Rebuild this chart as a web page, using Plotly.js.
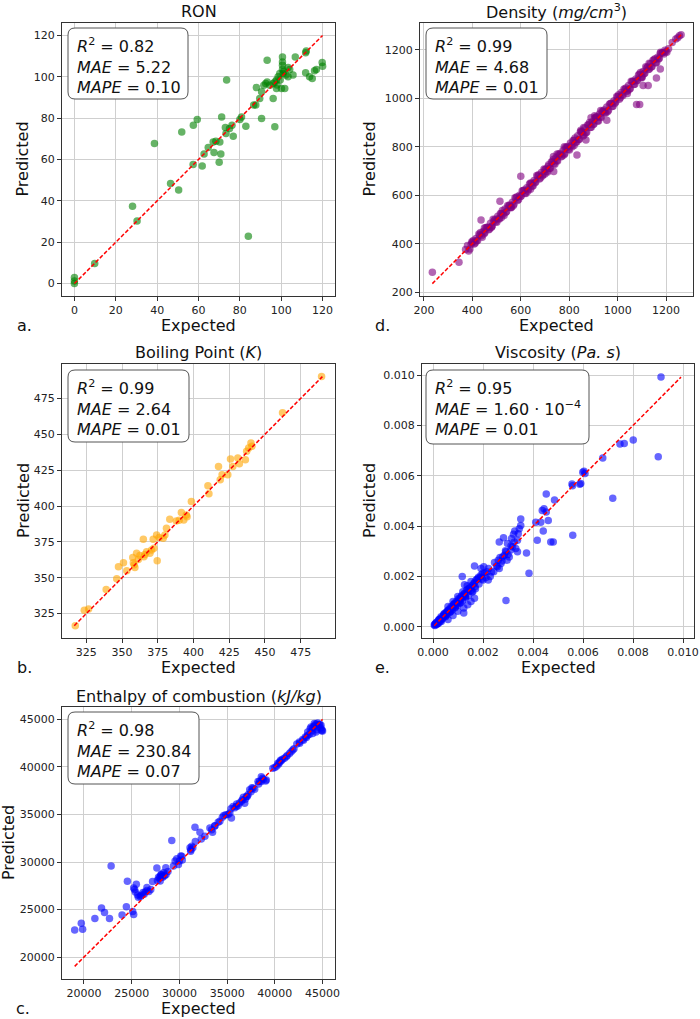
<!DOCTYPE html>
<html>
<head>
<meta charset="utf-8">
<script src="https://cdn.plot.ly/plotly-3.0.1.min.js"></script>
<style>
  html, body { margin: 0; padding: 0; background: #ffffff; }
  #chart { width: 700px; height: 1019px; }
</style>
</head>
<body>
<div id="chart"></div>
<script>
// ---- RON ----
const ronExpected = [
  0, 0, 0, 9.8, 28.1, 30.3, 38.7, 46.5, 50.4, 51.9,
  57.5, 59.4, 57.4, 61.8, 62.7, 64.7, 67.1, 67.5, 68.4, 70.0,
  70.3, 70.8, 71.2, 73.0, 73.6, 73.3, 75.0, 76.2, 76.8, 80.0,
  80.8, 82.9, 84.1, 86.7, 87.7, 88.0, 89.6, 90.5, 90.5, 91.6,
  92.5, 93.2, 93.2, 94.5, 96.1, 96.1, 96.9, 96.9, 97.7, 97.7,
  98.5, 99.3, 100.1, 100.6, 100.6, 100.6, 100.6, 100.9, 101.7, 102.2,
  103.3, 103.3, 104.1, 105.7, 106.8, 111.8, 111.8, 112.1, 113.7, 115.0,
  116.1, 117.0, 119.8, 120.0, 98.0, 99.5, 101.2
];
const ronPredicted = [
  0, 2.9, 1.2, 9.7, 37.4, 30.3, 67.7, 48.4, 45.2, 73.3,
  76.6, 79.3, 57.6, 56.8, 62.6, 65.8, 68.5, 63.4, 68.8, 58.7,
  68.5, 62.6, 80.6, 75.5, 98.4, 72.6, 75.0, 76.6, 71.3, 79.3,
  80.6, 76.1, 22.9, 86.3, 86.3, 94.8, 89.5, 79.8, 92.7, 95.9,
  96.8, 108.0, 97.5, 95.9, 96.8, 89.5, 97.5, 75.8, 98.4, 94.3,
  100.0, 101.6, 94.3, 109.6, 107.2, 105.6, 103.5, 101.6, 94.3, 100.8,
  100.0, 104.5, 103.5, 100.8, 109.6, 101.9, 111.6, 112.5, 100.0, 99.2,
  102.9, 103.5, 106.9, 105.1, 96.0, 98.5, 102.5
];

// ---- Density (mg/cm3) ----
const densityExpected = [
  235, 345, 372, 380, 385, 395, 436, 514, 600, 713,
  736, 832, 869, 955, 910, 1078, 1091, 1105, 1126, 1160,
  1176, 1203, 1177, 1248, 1255, 1262, 1240,
  400, 408, 415, 422, 430, 438, 445, 452, 460, 468,
  475, 482, 490, 497, 505, 512, 520, 527, 535, 542,
  550, 557, 565, 572, 580, 587, 595, 602, 610, 617,
  625, 632, 640, 647, 655, 662, 670, 677, 685, 692,
  700, 707, 715, 722, 730, 737, 745, 752, 760, 767,
  775, 782, 790, 797, 805, 812, 820, 827, 835, 842,
  850, 857, 865, 872, 880, 887, 895, 902, 910, 917,
  925, 932, 940, 947, 955, 962, 970, 977, 985, 992,
  1000, 1007, 1015, 1022, 1030, 1037, 1045, 1052, 1060, 1067,
  1075, 1082, 1090, 1097, 1105, 1112, 1120, 1127, 1135, 1142,
  1150, 1157, 1165, 1172, 1185, 1195, 1210,
  890, 905, 860, 848, 930, 750, 735, 640, 700, 780,
  820, 1040, 1100, 1130, 560, 480, 450, 520,
  390, 398, 412, 427, 441, 456, 471, 486, 501, 516,
  531, 546, 561, 576, 591, 606, 621, 636, 651, 666,
  681, 696, 711, 726, 741, 756, 771, 786, 801, 816,
  831, 846, 861, 876, 891, 906, 921, 936, 951, 966,
  981, 996, 1011, 1026, 1041, 1056, 1071, 1086, 1101, 1116,
  1131, 1146, 1161, 1176, 1191, 1225,
  404, 418, 434, 449, 464, 479, 494, 509, 524, 539,
  554, 569, 584, 599, 614, 629, 644, 659, 674, 689,
  704, 719, 734, 749, 764, 779, 794, 809, 824, 839,
  854, 869, 884, 899, 914, 929, 944, 959, 974, 989,
  1004, 1019, 1034, 1049, 1064, 1079, 1094, 1109, 1124, 1139,
  1154, 1169, 1184, 1199
];
const densityPredicted = [
  282, 323, 376, 392, 370, 398, 498, 575, 678, 719,
  698, 766, 828, 910, 923, 975, 975, 1053, 1053, 1084,
  1121, 1190, 1190, 1250, 1258, 1262, 1245,
  405, 399, 421, 413, 436, 433, 450, 446, 467, 457,
  484, 474, 495, 491, 513, 502, 525, 521, 543, 533,
  556, 550, 571, 563, 589, 578, 600, 597, 619, 608,
  631, 626, 650, 637, 661, 656, 679, 667, 694, 685,
  706, 699, 726, 711, 737, 730, 755, 741, 766, 759,
  786, 772, 797, 790, 816, 800, 827, 819, 846, 831,
  862, 845, 878, 860, 891, 880, 903, 894, 919, 906,
  935, 921, 946, 940, 964, 951, 979, 966, 990, 985,
  1007, 996, 1024, 1012, 1036, 1030, 1053, 1041, 1069, 1057,
  1080, 1075, 1099, 1086, 1111, 1104, 1126, 1119, 1143, 1131,
  1158, 1146, 1170, 1165, 1188, 1198, 1205,
  920, 928, 880, 868, 950, 770, 760, 625, 688, 800,
  805, 1020, 1085, 1145, 548, 470, 465, 508,
  378, 408, 403, 440, 427, 467, 461, 501, 488, 525,
  516, 558, 550, 590, 582, 619, 607, 646, 639, 681,
  671, 708, 696, 737, 728, 770, 762, 798, 787, 826,
  820, 862, 849, 890, 881, 919, 906, 947, 939, 976,
  967, 1008, 1002, 1039, 1030, 1071, 1058, 1096, 1089, 1130,
  1121, 1157, 1148, 1185, 1183, 1230,
  413, 412, 446, 441, 468, 468, 501, 504, 537, 530,
  560, 557, 594, 595, 622, 616, 649, 652, 685, 679,
  707, 711, 748, 743, 773, 767, 801, 806, 836, 830,
  859, 858, 900, 892, 924, 924, 952, 946, 980, 980,
  1015, 1015, 1043, 1037, 1071, 1073, 1107, 1101, 1129, 1129,
  1163, 1162, 1188, 1193
];

// ---- Boiling point (K) ----
const boilExpected = [
  317.3, 323.6, 326.6, 338.9, 346.3, 347.5, 351.0, 353.3, 357.5, 357.9,
  359.0, 360.2, 361.4, 358.5, 362.5, 364.9, 365.3, 366.0, 367.2, 369.5,
  370.7, 371.8, 372.3, 374.2, 374.6, 376.0, 378.8, 380.0, 381.1, 383.4,
  388.0, 390.0, 391.5, 393.2, 395.0, 395.5, 398.5, 410.1, 410.8, 417.5,
  418.7, 420.0, 424.0, 425.9, 427.5, 431.0, 432.1, 436.3, 437.2, 438.6,
  440.2, 440.9, 462.3, 489.6
];
const boilPredicted = [
  316.6, 327.3, 328.3, 341.8, 349.3, 357.7, 360.5, 354.9, 364.2, 360.5,
  357.2, 367.0, 362.8, 359.0, 365.5, 376.8, 364.7, 366.2, 368.2, 367.0,
  369.3, 376.8, 370.5, 379.8, 361.9, 378.0, 377.5, 379.8, 384.5, 390.8,
  389.6, 390.0, 395.4, 390.3, 393.8, 392.6, 403.1, 414.1, 408.5, 427.6,
  418.3, 421.8, 421.8, 432.8, 427.6, 433.5, 429.5, 432.3, 438.1, 440.5,
  444.0, 441.6, 465.0, 490.2
];

// ---- Viscosity (Pa.s) ----
const viscExpected = [
  0.00005, 0.00010, 0.00015, 0.00020, 0.00022, 0.00040, 0.00045, 0.00050, 0.00065, 0.00070,
  0.00085, 0.00090, 0.00105, 0.00110, 0.00130, 0.00013, 0.00027, 0.00033, 0.00033, 0.00046,
  0.00053, 0.00060, 0.00060, 0.00060, 0.00073, 0.00080, 0.00080, 0.00080, 0.00093, 0.00099,
  0.00099, 0.00099, 0.00110, 0.00119, 0.00119, 0.00123, 0.00123, 0.00126, 0.00126, 0.00117,
  0.00137, 0.00139, 0.00139, 0.00146, 0.00152, 0.00152, 0.00155, 0.00159, 0.00166, 0.00166,
  0.00166, 0.00172, 0.00182, 0.00192, 0.00192, 0.00199, 0.00203, 0.00216, 0.00221, 0.00229,
  0.00243, 0.00258, 0.00265, 0.00261, 0.00272, 0.00278, 0.00282, 0.00265, 0.00285, 0.00292,
  0.00296, 0.00305, 0.00311, 0.00318, 0.00325, 0.00331, 0.00338, 0.00338, 0.00341, 0.00345,
  0.00351, 0.00351, 0.00327, 0.00322, 0.00314, 0.00298, 0.00292, 0.00374, 0.00384, 0.00411,
  0.00417, 0.00431, 0.00441, 0.00437, 0.00444, 0.00453, 0.00461, 0.00453, 0.00471, 0.00481,
  0.00486, 0.00559, 0.00558, 0.00587, 0.00591, 0.00556, 0.00599, 0.00604, 0.00608, 0.00679,
  0.00719, 0.00748, 0.00765, 0.00801, 0.00901, 0.00912,
  0.00008, 0.00012, 0.00018, 0.00025, 0.00028, 0.00032, 0.00036, 0.00042, 0.00048, 0.00052,
  0.00056, 0.00062, 0.00068, 0.00072, 0.00078, 0.00082, 0.00088, 0.00092, 0.00098, 0.00102,
  0.00108, 0.00114, 0.00118, 0.00124, 0.00130, 0.00134, 0.00142, 0.00148, 0.00156, 0.00162,
  0.00170, 0.00176, 0.00184, 0.00190, 0.00200, 0.00206, 0.00212, 0.00222, 0.00234, 0.00246,
  0.00254, 0.00268, 0.00276, 0.00290, 0.00300, 0.00312,
  0.00007, 0.00016, 0.00023, 0.00030, 0.00038, 0.00044, 0.00054, 0.00058, 0.00066, 0.00075,
  0.00084, 0.00095, 0.00104, 0.00112, 0.00127, 0.00140, 0.00152, 0.00168, 0.00180, 0.00196
];
const viscPredicted = [
  0.00008, 0.00012, 0.00010, 0.00024, 0.00015, 0.00038, 0.00050, 0.00040, 0.00070, 0.00060,
  0.00090, 0.00080, 0.00110, 0.00095, 0.00120, 0.00018, 0.00029, 0.00022, 0.00035, 0.00045,
  0.00055, 0.00029, 0.00062, 0.00081, 0.00075, 0.00045, 0.00081, 0.00101, 0.00095, 0.00062,
  0.00101, 0.00121, 0.00110, 0.00121, 0.00140, 0.00075, 0.00055, 0.00131, 0.00167, 0.00200,
  0.00163, 0.00140, 0.00088, 0.00154, 0.00101, 0.00180, 0.00163, 0.00140, 0.00114, 0.00176,
  0.00242, 0.00186, 0.00197, 0.00206, 0.00232, 0.00213, 0.00239, 0.00219, 0.00186, 0.00200,
  0.00219, 0.00239, 0.00232, 0.00265, 0.00252, 0.00278, 0.00354, 0.00337, 0.00285, 0.00298,
  0.00265, 0.00278, 0.00305, 0.00318, 0.00337, 0.00311, 0.00344, 0.00298, 0.00370, 0.00390,
  0.00403, 0.00429, 0.00381, 0.00368, 0.00351, 0.00331, 0.00105, 0.00294, 0.00213, 0.00416,
  0.00344, 0.00416, 0.00381, 0.00462, 0.00469, 0.00456, 0.00423, 0.00528, 0.00337, 0.00337,
  0.00504, 0.00364, 0.00561, 0.00567, 0.00569, 0.00568, 0.00614, 0.00618, 0.00609, 0.00671,
  0.00511, 0.00726, 0.00728, 0.00742, 0.00676, 0.00992,
  0.00006, 0.00016, 0.00014, 0.00030, 0.00022, 0.00040, 0.00030, 0.00046, 0.00042, 0.00058,
  0.00048, 0.00066, 0.00058, 0.00080, 0.00068, 0.00088, 0.00076, 0.00100, 0.00086, 0.00112,
  0.00096, 0.00124, 0.00104, 0.00132, 0.00116, 0.00146, 0.00126, 0.00156, 0.00140, 0.00170,
  0.00152, 0.00188, 0.00170, 0.00198, 0.00186, 0.00214, 0.00196, 0.00232, 0.00218, 0.00256,
  0.00242, 0.00276, 0.00262, 0.00302, 0.00288, 0.00322,
  0.00011, 0.00013, 0.00027, 0.00026, 0.00034, 0.00052, 0.00050, 0.00064, 0.00061, 0.00072,
  0.00092, 0.00090, 0.00098, 0.00118, 0.00122, 0.00150, 0.00145, 0.00160, 0.00192, 0.00190
];

// ---- Enthalpy of combustion (kJ/kg) ----
const enthExpected = [
  19028, 19722, 19861, 21146, 21840, 22153, 22674, 22847, 23993, 24444,
  24549, 25104, 25208, 25208, 25382, 25486, 25625, 25903, 26181, 26424,
  26597, 26300, 27188, 27639, 27813, 27986, 28090, 28333, 28576, 28200,
  29201, 29375, 29549, 29722, 29896, 30139, 30250, 31111, 31181, 31292,
  31632, 31667, 32153, 32292, 32674, 33194, 33375, 33472, 33719, 34063,
  34240, 34653, 34865, 35281, 35451, 35625, 35972, 36146, 36604, 36840,
  37021, 37188, 37365, 37708, 37882, 38229, 38576, 38583, 39028, 39104,
  39792, 40000, 40313, 40486, 40667, 41188, 41531, 41875, 42569, 42917,
  43198, 43438, 43438, 43785, 43958, 43958, 44135, 44313, 44479, 44833,
  45000, 44931, 44700, 44200,
  27900, 28000, 28100, 28250, 28450, 28600, 28800, 27700, 30000, 30300,
  31200, 31400, 33700, 34500, 35100, 35400, 35800, 36000, 36300, 36500,
  36700, 36900, 37100, 37500, 37600, 38300, 38400, 38700, 38800, 40200,
  40400, 40600, 40800, 41000, 41300, 41700, 42000, 42300, 42600, 43000,
  43300, 43600, 43700, 43900, 44100, 44300, 44500, 44600, 44400, 44800,
  44900, 25300, 25700, 26000, 26600, 26800, 27000
];
const enthPredicted = [
  22855, 23552, 22925, 24074, 25153, 24700, 24074, 29575, 24422, 25292,
  27974, 24805, 24492, 27278, 26859, 27660, 26526, 26372, 26790, 26859,
  27312, 26600, 27939, 29366, 28392, 28008, 28705, 28880, 29401, 28500,
  32256, 29572, 30097, 30341, 29749, 30620, 30616, 31490, 31142, 31662,
  33649, 32152, 33126, 32430, 32709, 33580, 33406, 33126, 33824, 34171,
  34274, 34903, 34974, 35152, 34624, 35841, 35842, 35914, 36541, 36191,
  36886, 37062, 37586, 37764, 37653, 38454, 38454, 38976, 38524, 38631,
  39854, 39950, 40376, 40500, 40648, 41066, 41421, 41766, 42632, 42884,
  43156, 43329, 43679, 44201, 43511, 44130, 44556, 43679, 44620, 44378,
  43782, 43921, 44450, 44300,
  28300, 28500, 28650, 28400, 28550, 28700, 29000, 28050, 30100, 30200,
  31300, 31500, 33800, 34700, 35000, 35600, 35700, 36100, 36200, 36400,
  36800, 36600, 36900, 37400, 37800, 38200, 38500, 38800, 38700, 40100,
  40300, 40700, 40800, 40900, 41200, 41600, 41900, 42400, 42500, 42800,
  43100, 43400, 44000, 43800, 44300, 44500, 44200, 44450, 43900, 44100,
  43800, 27100, 26300, 26500, 27000, 26900, 27100
];

// ---- figure geometry (pixels) ----
const W = 700, H = 1019;
const FONT = 'DejaVu Sans, sans-serif';
const px = v => v / W;
const py = v => 1 - v / H;

const panels = [
  { key: '', letter: 'a.', title: 'RON', x: ronExpected, y: ronPredicted, color: '#008000',
    box: [62, 335, 23, 296], range: [-6, 126], tick0: 0, dtick: 20, fmt: '',
    ylabX: 22, letX: 24, stat: [68, 188, 28, 99],
    stats: ['<i>R</i><sup>2</sup> = 0.82', '<i>MAE</i> = 5.22', '<i>MAPE</i> = 0.10'] },
  { key: '2', letter: 'd.', title: 'Density (<i>mg/cm</i><sup>3</sup>)', x: densityExpected, y: densityPredicted, color: '#800080',
    box: [420, 693, 23, 296], range: [184, 1311], tick0: 0, dtick: 200, fmt: '',
    ylabX: 369, letX: 382, stat: [426, 547, 28, 99],
    stats: ['<i>R</i><sup>2</sup> = 0.99', '<i>MAE</i> = 4.68', '<i>MAPE</i> = 0.01'] },
  { key: '3', letter: 'b.', title: 'Boiling Point (<i>K</i>)', x: boilExpected, y: boilPredicted, color: '#FFA500',
    box: [62, 335, 364, 638], range: [308, 499], tick0: 0, dtick: 25, fmt: '',
    ylabX: 23, letX: 24, stat: [68, 189, 370, 442],
    stats: ['<i>R</i><sup>2</sup> = 0.99', '<i>MAE</i> = 2.64', '<i>MAPE</i> = 0.01'] },
  { key: '4', letter: 'e.', title: 'Viscosity (<i>Pa. s</i>)', x: viscExpected, y: viscPredicted, color: '#0000FF',
    box: [422, 694, 364, 638], range: [-0.00044, 0.01044], tick0: 0, dtick: 0.002, fmt: '.3f',
    ylabX: 369, letX: 382, stat: [426, 589, 370, 444],
    stats: ['<i>R</i><sup>2</sup> = 0.95', '<i>MAE</i> = 1.60 · 10<sup>−4</sup>', '<i>MAPE</i> = 0.01'] },
  { key: '5', letter: 'c.', title: 'Enthalpy of combustion (<i>kJ/kg</i>)', x: enthExpected, y: enthPredicted, color: '#0000FF',
    box: [62, 335, 707, 979], range: [17700, 46300], tick0: 0, dtick: 5000, fmt: 'd',
    ylabX: 8, letX: 23, stat: [68, 199, 712, 784],
    stats: ['<i>R</i><sup>2</sup> = 0.98', '<i>MAE</i> = 230.84', '<i>MAPE</i> = 0.07'] }
];

const traces = [];
const layout = {
  width: W, height: H,
  margin: { l: 0, r: 0, t: 0, b: 0 },
  paper_bgcolor: '#ffffff', plot_bgcolor: '#ffffff',
  showlegend: false,
  font: { family: FONT, size: 11, color: '#222' },
  annotations: [], shapes: []
};

function axisStyle(p, domain, anchor) {
  return {
    domain: domain, anchor: anchor, range: p.range, autorange: false,
    tick0: p.tick0, dtick: p.dtick, tickformat: p.fmt,
    showgrid: true, gridcolor: '#cfcfcf', gridwidth: 1, zeroline: false,
    showline: true, linecolor: '#333', linewidth: 1, mirror: true,
    ticks: 'outside', ticklen: 4, tickwidth: 1, tickcolor: '#333',
    tickfont: { family: FONT, size: 11, color: '#222' }
  };
}

function roundedRect(l, r, t, b, rad) {
  const x0 = px(l), x1 = px(r), y0 = py(b), y1 = py(t);
  const rx = rad / W, ry = rad / H;
  return `M ${x0 + rx},${y1} L ${x1 - rx},${y1} Q ${x1},${y1} ${x1},${y1 - ry} ` +
         `L ${x1},${y0 + ry} Q ${x1},${y0} ${x1 - rx},${y0} L ${x0 + rx},${y0} ` +
         `Q ${x0},${y0} ${x0},${y0 + ry} L ${x0},${y1 - ry} Q ${x0},${y1} ${x0 + rx},${y1} Z`;
}

panels.forEach(p => {
  const xa = 'x' + p.key, ya = 'y' + p.key;
  const [l, r, t, b] = p.box;
  layout['xaxis' + p.key] = axisStyle(p, [px(l), px(r)], ya);
  layout['yaxis' + p.key] = axisStyle(p, [py(b), py(t)], xa);

  traces.push({
    type: 'scatter', mode: 'markers', x: p.x, y: p.y, xaxis: xa, yaxis: ya,
    marker: { color: p.color, opacity: 0.6, size: 7.5, line: { width: 0 } },
    hoverinfo: 'skip'
  });
  // identity reference line spanning all plotted values
  const all = p.x.concat(p.y);
  const lo = Math.min(...all), hi = Math.max(...all);
  traces.push({
    type: 'scatter', mode: 'lines', x: [lo, hi], y: [lo, hi], xaxis: xa, yaxis: ya,
    line: { color: '#ff0000', width: 1.5, dash: '4px,2px' }, hoverinfo: 'skip'
  });

  const cx = (l + r) / 2, cy = (t + b) / 2;
  layout.annotations.push(
    { text: p.title, xref: 'paper', yref: 'paper', x: px(cx), y: py(t - 11),
      xanchor: 'center', yanchor: 'middle', showarrow: false,
      font: { family: FONT, size: 16, color: '#111' } },
    { text: 'Expected', xref: 'paper', yref: 'paper', x: px(cx), y: py(b + 29),
      xanchor: 'center', yanchor: 'middle', showarrow: false,
      font: { family: FONT, size: 16, color: '#111' } },
    { text: 'Predicted', xref: 'paper', yref: 'paper', x: px(p.ylabX), y: py(cy),
      xanchor: 'center', yanchor: 'middle', textangle: -90, showarrow: false,
      font: { family: FONT, size: 16, color: '#111' } },
    { text: p.letter, xref: 'paper', yref: 'paper', x: px(p.letX), y: py(b + 29),
      xanchor: 'center', yanchor: 'middle', showarrow: false,
      font: { family: FONT, size: 16, color: '#111' } },
    { text: p.stats.join('<br>'), xref: 'paper', yref: 'paper',
      x: px(p.stat[0] + 7), y: py(p.stat[2] + 5), xanchor: 'left', yanchor: 'top',
      align: 'left', showarrow: false,
      font: { family: FONT, size: 16, color: '#111' } }
  );
  const [sl, sr, st, sb] = p.stat;
  layout.shapes.push({
    type: 'path', xref: 'paper', yref: 'paper', path: roundedRect(sl, sr, st, sb, 7),
    fillcolor: '#ffffff', line: { color: '#555', width: 1 }, layer: 'above'
  });
});

Plotly.newPlot('chart', traces, layout, { displayModeBar: false, staticPlot: true });
</script>
</body>
</html>
